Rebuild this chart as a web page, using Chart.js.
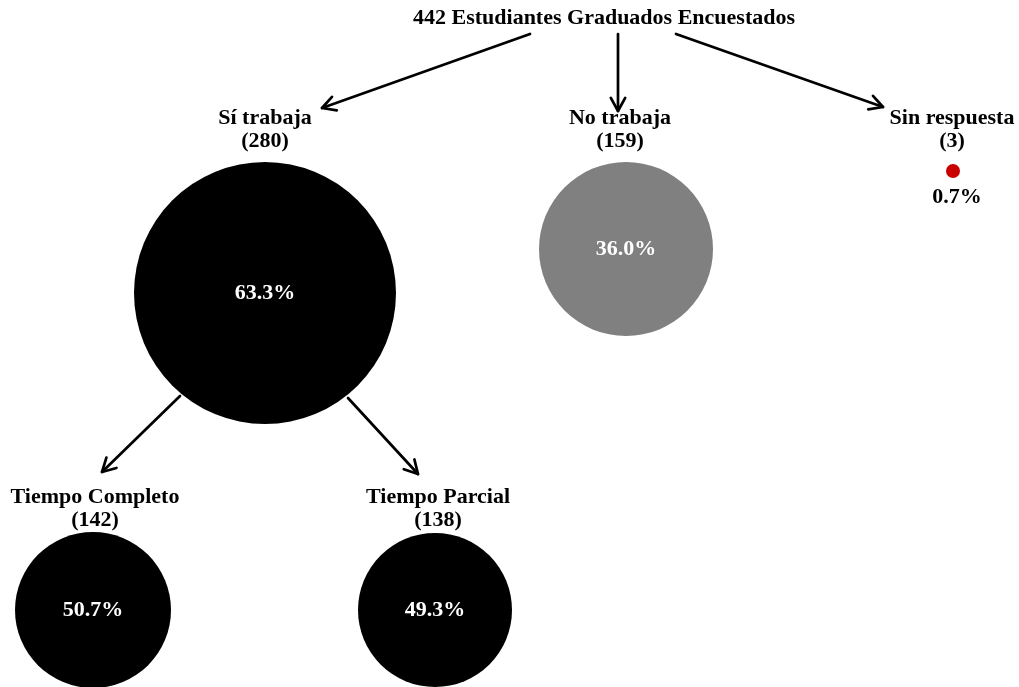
<!DOCTYPE html>
<html>
<head>
  <meta charset="UTF-8">
  <title>442 Estudiantes Graduados Encuestados</title>
  <script src="https://cdn.jsdelivr.net/npm/chart.js"></script>
  <style>
    body { margin: 0; background: #ffffff; }
    #wrap { width: 1019px; height: 687px; position: relative; }
  </style>
</head>
<body>
  <div id="wrap"><canvas id="tree"></canvas></div>

  <script>
    // datos
    const title = '442 Estudiantes Graduados Encuestados';
    const nodeNames = ['Sí trabaja', 'No trabaja', 'Sin respuesta', 'Tiempo Completo', 'Tiempo Parcial'];
    const nodeCounts = [280, 159, 3, 142, 138];
    const nodePercents = ['63.3%', '36.0%', '0.7%', '50.7%', '49.3%'];

    // disposición (unidades del eje = lienzo 1019 x 687)
    const nodeX = [265, 626, 953, 93, 435];
    const nodeY = [293, 249, 171, 610, 610];
    const nodeR = [131, 87, 7, 78, 77];
    const nodeColors = ['#000000', '#808080', '#c80000', '#000000', '#000000'];
    const labelX = [265, 620, 952, 95, 438];
    const labelY = [118, 118, 118, 497, 497];
    const arrows = [
      [530, 34, 322, 108],
      [618, 34, 618, 111],
      [676, 34, 883, 107],
      [180, 396, 102, 472],
      [348, 398, 418, 474]
    ];

    const points = nodeNames.map((n, i) => ({ x: nodeX[i], y: nodeY[i], r: nodeR[i] }));

    const serif = '"Liberation Serif", "Times New Roman", serif';

    const treePlugin = {
      id: 'treeDecor',
      afterDatasetsDraw(chart) {
        const { ctx, scales } = chart;
        const px = v => scales.x.getPixelForValue(v);
        const py = v => scales.y.getPixelForValue(v);
        ctx.save();

        // flechas
        ctx.strokeStyle = '#000';
        ctx.lineWidth = 2.7;
        ctx.lineCap = 'round';
        ctx.lineJoin = 'round';
        arrows.forEach(a => {
          const x1 = px(a[0]), y1 = py(a[1]), x2 = px(a[2]), y2 = py(a[3]);
          const ang = Math.atan2(y2 - y1, x2 - x1);
          ctx.beginPath();
          ctx.moveTo(x1, y1);
          ctx.lineTo(x2, y2);
          ctx.stroke();
          const h = 15;
          ctx.beginPath();
          ctx.moveTo(x2 - h * Math.cos(ang - 0.5), y2 - h * Math.sin(ang - 0.5));
          ctx.lineTo(x2, y2);
          ctx.lineTo(x2 - h * Math.cos(ang + 0.5), y2 - h * Math.sin(ang + 0.5));
          ctx.stroke();
        });

        ctx.textAlign = 'center';
        ctx.textBaseline = 'middle';
        ctx.fillStyle = '#000';
        ctx.font = 'bold 22px ' + serif;
        ctx.fillText(title, px(604), py(18));

        nodeNames.forEach((n, i) => {
          ctx.fillStyle = '#000';
          ctx.font = 'bold 22px ' + serif;
          ctx.fillText(n, px(labelX[i]), py(labelY[i]));
          ctx.fillText('(' + nodeCounts[i] + ')', px(labelX[i]), py(labelY[i] + 23));
          ctx.font = 'bold 22px ' + serif;
          if (nodeR[i] > 20) {
            ctx.fillStyle = '#ffffff';
            ctx.fillText(nodePercents[i], px(nodeX[i]), py(nodeY[i]));
          } else {
            ctx.fillStyle = '#000';
            ctx.fillText(nodePercents[i], px(nodeX[i] + 4), py(nodeY[i] + 26));
          }
        });
        ctx.restore();
      }
    };

    new Chart(document.getElementById('tree'), {
      type: 'bubble',
      data: {
        datasets: [{
          data: points,
          backgroundColor: nodeColors,
          borderWidth: 0,
          hoverRadius: 0,
          clip: false
        }]
      },
      options: {
        responsive: true,
        maintainAspectRatio: false,
        animation: false,
        layout: { padding: 0, autoPadding: false },
        plugins: { legend: { display: false }, tooltip: { enabled: false } },
        scales: {
          x: { type: 'linear', min: 0, max: 1019, display: false },
          y: { type: 'linear', min: 0, max: 687, reverse: true, display: false }
        }
      },
      plugins: [treePlugin]
    });
  </script>
</body>
</html>
